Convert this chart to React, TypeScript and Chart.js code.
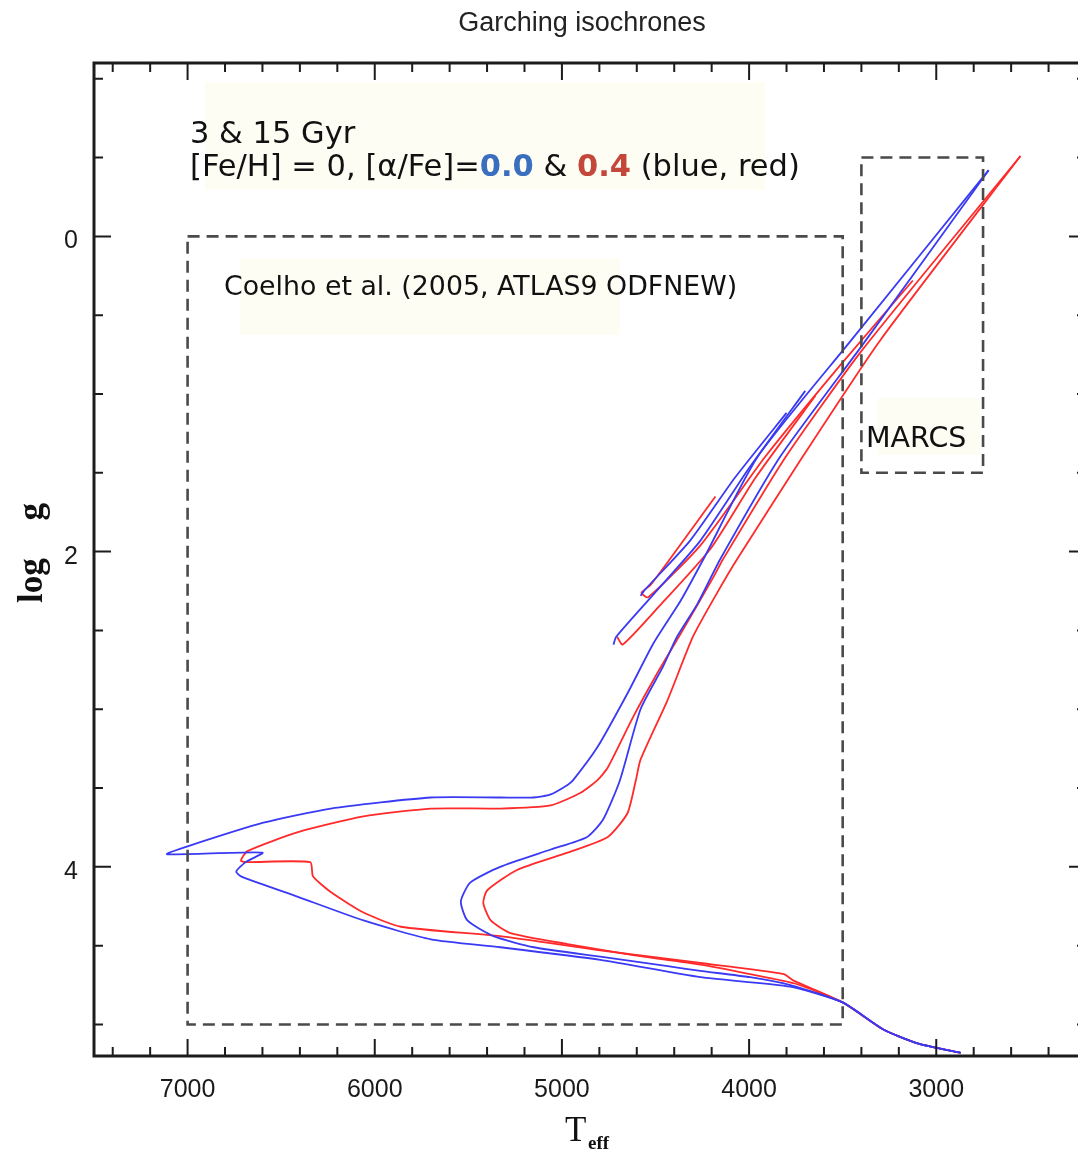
import React, { useEffect, useRef } from 'react';
import { Chart, registerables } from 'chart.js';

Chart.register(...registerables);

// ---------- Data (Teff [K], log g) ----------
// Blue: [alpha/Fe]=0.0 ; Red: [alpha/Fe]=0.4 ; ages 3 and 15 Gyr
const blue3Teff = [2870, 3100, 3285, 3500, 3780, 4260, 4795, 5330, 5700, 6060, 6410, 6715, 6740, 6690, 6600, 7110, 7000, 6595, 6235, 5700, 5330, 5150, 5060, 4970, 4940, 4810, 4650, 4510, 4365, 4245, 3955, 3455, 2720];
const blue3Logg = [5.18, 5.12, 5.03, 4.86, 4.76, 4.70, 4.59, 4.51, 4.46, 4.34, 4.19, 4.06, 4.03, 3.97, 3.91, 3.92, 3.87, 3.72, 3.63, 3.56, 3.56, 3.56, 3.54, 3.48, 3.45, 3.24, 2.90, 2.58, 2.31, 2.05, 1.40, 0.66, -0.42];

const blue15Teff = [2870, 3100, 3285, 3500, 3780, 3995, 4260, 4435, 4795, 5150, 5365, 5505, 5540, 5490, 5330, 5060, 4865, 4780, 4690, 4580, 4460, 4385, 4275, 4155, 3835, 3395, 2720];
const blue15Logg = [5.18, 5.12, 5.03, 4.86, 4.75, 4.70, 4.66, 4.63, 4.57, 4.51, 4.44, 4.34, 4.22, 4.10, 4.00, 3.89, 3.81, 3.70, 3.45, 3.00, 2.73, 2.54, 2.33, 2.05, 1.40, 0.69, -0.42];

const red3Teff = [2870, 3100, 3285, 3500, 3765, 3815, 4260, 4795, 5330, 5860, 6060, 6235, 6330, 6345, 6690, 6715, 6680, 6410, 6060, 5700, 5330, 5060, 4900, 4810, 4755, 4620, 4490, 4365, 4190, 4140, 3805, 3395, 2550];
const red3Logg = [5.18, 5.12, 5.03, 4.86, 4.72, 4.68, 4.61, 4.53, 4.44, 4.38, 4.29, 4.16, 4.06, 3.97, 3.97, 3.96, 3.90, 3.78, 3.68, 3.63, 3.63, 3.61, 3.53, 3.45, 3.37, 3.05, 2.77, 2.52, 2.16, 2.05, 1.40, 0.72, -0.51];

const red15Teff = [2870, 3100, 3285, 3500, 3755, 3995, 4260, 4620, 4970, 5275, 5380, 5420, 5400, 5240, 4970, 4755, 4650, 4605, 4580, 4435, 4300, 4170, 4065, 3715, 3300, 2550];
const red15Logg = [5.18, 5.12, 5.03, 4.86, 4.74, 4.68, 4.62, 4.56, 4.49, 4.42, 4.34, 4.23, 4.15, 4.02, 3.91, 3.81, 3.66, 3.45, 3.32, 2.94, 2.54, 2.26, 2.05, 1.40, 0.66, -0.51];

// Core-He-burning (clump) + AGB branches
const blue3HbTeff = [4580, 4555, 4315, 4075, 3800];
const blue3HbLogg = [2.28, 2.24, 1.93, 1.53, 1.12];
const blue15HbTeff = [4725, 4710, 4525, 4260, 4000, 3700];
const blue15HbLogg = [2.59, 2.54, 2.29, 1.93, 1.47, 0.98];
const red3HbTeff = [4180, 4525, 4575, 4540, 4260, 3915, 3515, 3125];
const red3HbLogg = [1.65, 2.21, 2.26, 2.29, 1.96, 1.40, 0.82, 0.28];
const red15HbTeff = [4705, 4675, 4475, 4205, 3965, 3645];
const red15HbLogg = [2.54, 2.59, 2.34, 1.98, 1.53, 1.01];

// Axis ranges and ticks
const xRange = [2200, 7500];
const yRange = [-1.1, 5.2];
const xMinorStep = 200;
const xLabelTicks = [3000, 4000, 5000, 6000, 7000];
const yMinorStep = 0.5;
const yLabelTicks = [0, 2, 4];

// Model-grid boxes: [Teff min, Teff max, logg min, logg max]
const coelhoBox = [3500, 7000, 0, 5];
const marcsBox = [2750, 3400, -0.5, 1.5];

const BLUE = '#3a3af4';
const RED = '#ff2a2a';

const SANS = '"Liberation Sans", Arial, Helvetica, sans-serif';
const SERIF = '"Liberation Serif", "Times New Roman", serif';
const VERD = '"DejaVu Sans", Verdana, sans-serif';

function series(teff: number[], logg: number[], color: string) {
  return {
    data: teff.map((t, i) => ({ x: t, y: logg[i] })),
    showLine: true,
    borderColor: color,
    backgroundColor: color,
    borderWidth: 1.8,
    pointRadius: 0,
    pointHoverRadius: 0,
    fill: false,
    tension: 0.2,
  };
}

const decorPlugin = {
  id: 'decor',
  beforeDatasetsDraw(chart: any) {
    const ctx = chart.ctx;
    ctx.save();
    ctx.fillStyle = '#fdfdf3';
    ctx.fillRect(205, 82, 560, 108);
    ctx.fillRect(240, 258, 380, 77);
    ctx.fillRect(878, 398, 102, 57);
    ctx.restore();
  },
  afterDatasetsDraw(chart: any) {
    const { ctx, chartArea: a, scales } = chart;
    const xs = scales.x;
    const ys = scales.y;
    ctx.save();

    // dashed model boxes
    ctx.strokeStyle = '#4a4a4a';
    ctx.lineWidth = 2.6;
    ctx.setLineDash([12, 7]);
    for (const b of [coelhoBox, marcsBox]) {
      const x1 = xs.getPixelForValue(b[1]);
      const x2 = xs.getPixelForValue(b[0]);
      const y1 = ys.getPixelForValue(b[2]);
      const y2 = ys.getPixelForValue(b[3]);
      ctx.strokeRect(x1, y1, x2 - x1, y2 - y1);
    }
    ctx.setLineDash([]);

    // frame
    ctx.strokeStyle = '#1c1c1c';
    ctx.lineWidth = 3;
    ctx.strokeRect(a.left, a.top, a.right - a.left, a.bottom - a.top);

    // ticks (inward)
    ctx.lineWidth = 2;
    ctx.beginPath();
    for (let v = xRange[0]; v <= xRange[1] + 1e-6; v += xMinorStep) {
      const px = xs.getPixelForValue(v);
      if (px <= a.left + 2 || px >= a.right - 2) continue;
      const len = v % 1000 === 0 ? 17 : 9;
      ctx.moveTo(px, a.bottom);
      ctx.lineTo(px, a.bottom - len);
      ctx.moveTo(px, a.top);
      ctx.lineTo(px, a.top + len);
    }
    for (let k = Math.ceil(yRange[0] / yMinorStep); k * yMinorStep <= yRange[1]; k++) {
      const v = k * yMinorStep;
      const py = ys.getPixelForValue(v);
      if (py <= a.top + 2 || py >= a.bottom - 2) continue;
      const len = Math.abs(v % 2) < 1e-6 ? 17 : 9;
      ctx.moveTo(a.left, py);
      ctx.lineTo(a.left + len, py);
      ctx.moveTo(a.right, py);
      ctx.lineTo(a.right - len, py);
    }
    ctx.stroke();

    // tick labels
    ctx.fillStyle = '#1a1a1a';
    ctx.font = `25px ${SANS}`;
    ctx.textBaseline = 'alphabetic';
    ctx.textAlign = 'center';
    for (const v of xLabelTicks) {
      ctx.fillText(String(v), xs.getPixelForValue(v), 1097);
    }
    ctx.textAlign = 'right';
    for (const v of yLabelTicks) {
      ctx.fillText(String(v), 78, ys.getPixelForValue(v) + 12);
    }

    // title
    ctx.textAlign = 'center';
    ctx.font = `27px ${SANS}`;
    ctx.fillStyle = '#222';
    ctx.fillText('Garching isochrones', 582, 31);

    // x axis title: T_eff
    ctx.textAlign = 'left';
    ctx.fillStyle = '#111';
    ctx.font = `35px ${SERIF}`;
    ctx.fillText('T', 565, 1141);
    ctx.font = `bold 19px ${SERIF}`;
    ctx.fillText('eff', 588, 1149);

    // y axis title: log g (rotated)
    ctx.save();
    ctx.translate(0, 553);
    ctx.rotate(-Math.PI / 2);
    ctx.font = `bold 35px ${SERIF}`;
    ctx.textAlign = 'left';
    ctx.fillText('log', -50, 42);
    ctx.textAlign = 'right';
    ctx.fillText('g', 50, 42);
    ctx.restore();

    // annotations
    ctx.textAlign = 'left';
    ctx.fillStyle = '#111';
    ctx.font = `30.5px ${VERD}`;
    ctx.fillText('3 & 15 Gyr', 190, 143);
    const segs: [string, string, string][] = [
      ['[Fe/H] = 0, [\u03B1/Fe]=', `30.5px ${VERD}`, '#111'],
      ['0.0', `bold 30.5px ${VERD}`, '#3a6fc0'],
      [' & ', `30.5px ${VERD}`, '#111'],
      ['0.4', `bold 30.5px ${VERD}`, '#c4473b'],
      [' (blue, red)', `30.5px ${VERD}`, '#111'],
    ];
    let cx = 190;
    for (const [t, f, c] of segs) {
      ctx.font = f;
      ctx.fillStyle = c;
      ctx.fillText(t, cx, 176);
      cx += ctx.measureText(t).width;
    }
    ctx.fillStyle = '#111';
    ctx.font = `26.8px ${VERD}`;
    ctx.fillText('Coelho et al. (2005, ATLAS9 ODFNEW)', 224, 295);
    ctx.font = `28.5px ${VERD}`;
    ctx.fillText('MARCS', 866, 447);

    ctx.restore();
  },
};

export default function App() {
  const canvasRef = useRef<HTMLCanvasElement | null>(null);

  useEffect(() => {
    const canvas = canvasRef.current;
    if (!canvas) return;
    const chart = new Chart(canvas, {
      type: 'scatter',
      data: {
        datasets: [
          series(blue3Teff, blue3Logg, BLUE),
          series(blue15Teff, blue15Logg, BLUE),
          series(blue3HbTeff, blue3HbLogg, BLUE),
          series(blue15HbTeff, blue15HbLogg, BLUE),
          series(red3Teff, red3Logg, RED),
          series(red15Teff, red15Logg, RED),
          series(red3HbTeff, red3HbLogg, RED),
          series(red15HbTeff, red15HbLogg, RED),
        ],
      } as any,
      options: {
        responsive: false,
        animation: false,
        devicePixelRatio: 1,
        events: [],
        layout: { padding: { left: 94, top: 63, right: 14, bottom: 97 } },
        scales: {
          x: { type: 'linear', display: false, min: xRange[0], max: xRange[1], reverse: true },
          y: { type: 'linear', display: false, min: yRange[0], max: yRange[1], reverse: true },
        },
        plugins: {
          legend: { display: false },
          tooltip: { enabled: false },
          title: { display: false },
        },
      } as any,
      plugins: [decorPlugin],
    });
    return () => chart.destroy();
  }, []);

  return (
    <div
      style={{
        position: 'fixed',
        left: 0,
        top: 0,
        width: 1078,
        height: 1153,
        overflow: 'hidden',
        background: '#fff',
      }}
    >
      <canvas ref={canvasRef} width={1100} height={1153} style={{ display: 'block' }} />
    </div>
  );
}
